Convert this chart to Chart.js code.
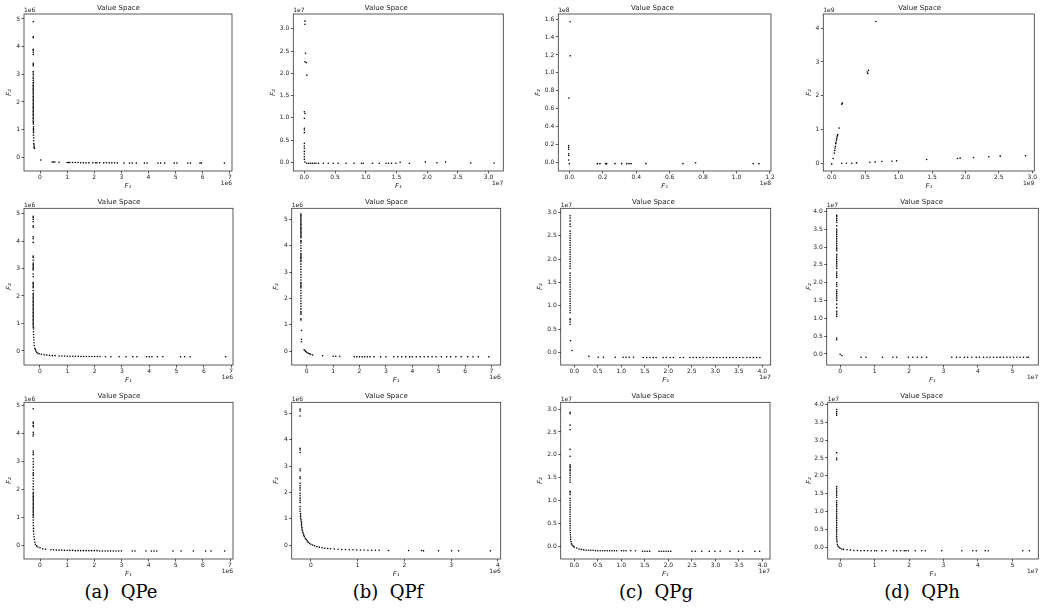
<!DOCTYPE html>
<html>
<head>
<meta charset="utf-8">
<script src="https://cdn.jsdelivr.net/npm/chart.js@4.4.1/dist/chart.umd.min.js"></script>
<style>
  body { margin: 0; background: #fff; width: 1043px; height: 610px; position: relative; overflow: hidden; }
  canvas { position: absolute; }
  .cap { position: absolute; top: 580px; transform: translateX(-50%); font-family: 'DejaVu Serif', serif; font-size: 18px; color: #000; white-space: pre; line-height: 24px; }
</style>
</head>
<body>
<div class="cap" style="left:121px">(a)  QPe</div>
<div class="cap" style="left:388px">(b)  QPf</div>
<div class="cap" style="left:656px">(c)  QPg</div>
<div class="cap" style="left:922px">(d)  QPh</div>
<script>
// tick values (in units of the axis exponent)
const t0to7 = [0, 1, 2, 3, 4, 5, 6, 7];
const t0to5 = [0, 1, 2, 3, 4, 5];
const t0to4 = [0, 1, 2, 3, 4];
const t0to3h = [0, 0.5, 1.0, 1.5, 2.0, 2.5, 3.0];
const t0to4h = [0, 0.5, 1.0, 1.5, 2.0, 2.5, 3.0, 3.5, 4.0];
const t0to12 = [0, 0.2, 0.4, 0.6, 0.8, 1.0, 1.2];
const t0to16 = [0, 0.2, 0.4, 0.6, 0.8, 1.0, 1.2, 1.4, 1.6];

// QPe, row 1 (x1e6, y1e6)
const qpe1 = [
  [-0.25,4.9],[-0.25,4.36],[-0.25,4.32],[-0.25,3.9],[-0.25,3.86],[-0.25,3.8],[-0.25,3.72],[-0.25,3.4],[-0.25,3.35],[-0.25,3.3],
  [-0.25,3.1],[-0.25,3.05],[-0.25,2.98],[-0.25,2.9],[-0.25,2.85],[-0.25,2.78],[-0.25,2.7],[-0.25,2.65],[-0.25,2.6],[-0.25,2.55],
  [-0.25,2.5],[-0.25,2.45],[-0.25,2.4],[-0.25,2.35],[-0.25,2.3],[-0.25,2.25],[-0.25,2.2],[-0.25,2.15],[-0.25,2.1],[-0.25,2.05],
  [-0.25,2.0],[-0.25,1.95],[-0.25,1.9],[-0.25,1.85],[-0.25,1.8],[-0.25,1.75],[-0.25,1.7],[-0.25,1.65],[-0.25,1.6],[-0.25,1.55],
  [-0.25,1.5],[-0.25,1.45],[-0.25,1.4],[-0.25,1.35],[-0.25,1.3],[-0.25,1.25],[-0.24,1.2],[-0.24,1.1],[-0.24,1.05],[-0.24,1.0],
  [-0.24,0.95],[-0.24,0.9],[-0.24,0.8],[-0.23,0.7],[-0.23,0.6],[-0.23,0.5],[-0.22,0.45],[-0.22,0.4],[-0.22,0.35],[-0.2,0.32],
  [0.03,-0.1],[0.45,-0.17],[0.5,-0.17],[0.55,-0.17],[0.7,-0.18],[1.0,-0.19],[1.05,-0.19],[1.1,-0.19],[1.2,-0.19],[1.3,-0.19],
  [1.4,-0.19],[1.5,-0.2],[1.6,-0.2],[1.7,-0.2],[1.8,-0.2],[1.95,-0.2],[2.05,-0.2],[2.1,-0.2],[2.2,-0.2],[2.35,-0.2],
  [2.45,-0.2],[2.55,-0.2],[2.65,-0.2],[2.75,-0.2],[2.85,-0.21],[3.1,-0.21],[3.3,-0.21],[3.4,-0.21],[3.55,-0.21],[3.85,-0.21],
  [3.95,-0.21],[4.35,-0.21],[4.45,-0.21],[4.6,-0.21],[4.95,-0.21],[5.05,-0.21],[5.45,-0.21],[5.55,-0.21],[5.9,-0.21],[5.95,-0.21],
  [6.8,-0.21]
];
// QPe, row 2 (x1e6, y1e6)
const qpe2 = [
  [-0.25,4.9],[-0.25,4.85],[-0.25,4.78],[-0.25,4.7],[-0.25,4.55],[-0.25,4.5],[-0.25,4.15],[-0.25,4.08],[-0.25,3.95],[-0.25,3.45],
  [-0.25,3.4],[-0.25,3.3],[-0.25,3.2],[-0.25,3.15],[-0.25,3.1],[-0.25,3.05],[-0.25,3.0],[-0.25,2.95],[-0.25,2.8],[-0.25,2.7],
  [-0.25,2.5],[-0.25,2.45],[-0.25,2.4],[-0.25,2.35],[-0.25,2.3],[-0.25,2.2],[-0.25,2.1],[-0.25,2.05],[-0.25,2.0],[-0.25,1.95],
  [-0.25,1.9],[-0.25,1.85],[-0.25,1.8],[-0.25,1.75],[-0.25,1.7],[-0.25,1.65],[-0.25,1.6],[-0.25,1.55],[-0.25,1.5],[-0.25,1.45],
  [-0.25,1.4],[-0.25,1.35],[-0.25,1.3],[-0.25,1.25],[-0.25,1.2],[-0.25,1.15],[-0.25,1.1],[-0.25,1.05],[-0.25,1.0],[-0.25,0.95],
  [-0.25,0.9],[-0.24,0.85],[-0.24,0.8],[-0.24,0.7],[-0.235,0.6],[-0.23,0.5],[-0.225,0.4],[-0.22,0.3],[-0.21,0.2],[-0.19,0.1],
  [-0.17,0.05],[-0.15,0.0],[-0.12,-0.05],[-0.08,-0.08],[-0.03,-0.1],[0.05,-0.12],[0.15,-0.14],[0.25,-0.15],[0.35,-0.16],[0.45,-0.17],
  [0.55,-0.17],[0.7,-0.18],[0.8,-0.18],[0.9,-0.18],[1.0,-0.19],[1.1,-0.19],[1.2,-0.19],[1.3,-0.19],[1.4,-0.19],[1.5,-0.2],
  [1.6,-0.2],[1.7,-0.2],[1.8,-0.2],[1.9,-0.2],[2.0,-0.2],[2.1,-0.2],[2.2,-0.2],[2.4,-0.21],[2.6,-0.21],[2.9,-0.21],
  [3.15,-0.21],[3.4,-0.21],[3.55,-0.21],[3.9,-0.21],[4.0,-0.21],[4.1,-0.21],[4.3,-0.21],[4.5,-0.21],[5.15,-0.21],[5.3,-0.21],
  [5.5,-0.21],[6.8,-0.21]
];
// QPe, row 3 (x1e6, y1e6)
const qpe3 = [
  [-0.25,4.9],[-0.25,4.42],[-0.25,4.38],[-0.25,4.3],[-0.25,4.25],[-0.25,4.05],[-0.25,3.98],[-0.25,3.92],[-0.25,3.38],[-0.25,3.32],
  [-0.25,3.25],[-0.25,3.1],[-0.25,3.0],[-0.25,2.9],[-0.25,2.8],[-0.25,2.7],[-0.25,2.6],[-0.25,2.55],[-0.25,2.5],[-0.25,2.4],
  [-0.25,2.3],[-0.25,2.2],[-0.25,2.1],[-0.25,2.0],[-0.25,1.9],[-0.25,1.85],[-0.25,1.8],[-0.25,1.75],[-0.25,1.7],[-0.25,1.65],
  [-0.25,1.6],[-0.25,1.55],[-0.25,1.5],[-0.25,1.45],[-0.25,1.4],[-0.25,1.35],[-0.25,1.3],[-0.25,1.25],[-0.25,1.2],[-0.25,1.15],
  [-0.25,1.1],[-0.25,1.05],[-0.25,1.0],[-0.25,0.9],[-0.25,0.8],[-0.25,0.7],[-0.24,0.6],[-0.24,0.5],[-0.23,0.4],[-0.22,0.3],
  [-0.21,0.2],[-0.19,0.1],[-0.17,0.03],[-0.13,-0.03],[-0.08,-0.07],[0.0,-0.1],[0.1,-0.13],[0.2,-0.15],[0.4,-0.17],[0.5,-0.17],
  [0.6,-0.18],[0.7,-0.18],[0.8,-0.18],[0.9,-0.19],[1.0,-0.19],[1.1,-0.19],[1.2,-0.19],[1.3,-0.2],[1.4,-0.2],[1.5,-0.2],
  [1.6,-0.2],[1.7,-0.2],[1.8,-0.2],[1.9,-0.2],[2.0,-0.2],[2.1,-0.2],[2.2,-0.21],[2.3,-0.21],[2.4,-0.21],[2.5,-0.21],
  [2.6,-0.21],[2.7,-0.21],[2.8,-0.21],[2.9,-0.21],[3.0,-0.21],[3.4,-0.21],[3.5,-0.21],[3.9,-0.21],[4.1,-0.21],[4.2,-0.21],
  [4.3,-0.21],[4.9,-0.21],[5.2,-0.21],[5.65,-0.21],[6.1,-0.21],[6.3,-0.21],[6.8,-0.21]
];
// QPf, row 1 (x1e7, y1e7)
const qpf1 = [
  [0.01,3.17],[0.01,3.1],[0.02,2.45],[0.01,2.26],[0.03,2.24],[0.04,1.96],[0.0,1.14],[0.01,1.1],[0.0,0.99],[0.0,0.77],
  [0.0,0.73],[0.0,0.67],[0.0,0.43],[0.0,0.37],[0.0,0.32],[0.0,0.25],[0.0,0.19],[0.0,0.13],[0.0,0.07],[0.01,0.01],
  [0.04,-0.015],[0.07,-0.015],[0.1,-0.015],[0.13,-0.015],[0.16,-0.015],[0.19,-0.015],[0.23,-0.015],[0.31,-0.015],[0.39,-0.015],[0.47,-0.015],
  [0.55,-0.015],[0.68,-0.015],[0.81,-0.015],[0.93,-0.015],[0.96,-0.015],[1.11,-0.015],[1.22,-0.015],[1.33,-0.015],[1.37,-0.015],[1.42,-0.015],
  [1.49,-0.015],[1.56,0.005],[1.71,-0.015],[1.97,0.01],[2.16,-0.005],[2.3,0.01],[2.71,-0.01],[3.09,-0.01]
];
// QPf, row 2 (x1e6, y1e6)
const qpf2 = [
  [-0.22,5.2],[-0.22,5.15],[-0.22,5.1],[-0.22,5.05],[-0.22,5.0],[-0.22,4.95],[-0.22,4.9],[-0.22,4.85],[-0.22,4.8],[-0.22,4.75],
  [-0.22,4.7],[-0.22,4.65],[-0.22,4.6],[-0.22,4.55],[-0.22,4.5],[-0.22,4.45],[-0.22,4.4],[-0.22,4.35],[-0.22,4.3],[-0.22,4.2],
  [-0.22,4.15],[-0.22,4.1],[-0.22,4.0],[-0.22,3.9],[-0.22,3.8],[-0.22,3.7],[-0.22,3.65],[-0.22,3.6],[-0.22,3.55],[-0.22,3.5],
  [-0.22,3.45],[-0.22,3.4],[-0.22,3.3],[-0.22,3.2],[-0.22,3.1],[-0.22,3.0],[-0.22,2.9],[-0.22,2.8],[-0.22,2.7],[-0.22,2.6],
  [-0.22,2.55],[-0.22,2.5],[-0.22,2.45],[-0.22,2.4],[-0.22,2.3],[-0.22,2.2],[-0.22,2.1],[-0.22,2.0],[-0.22,1.9],[-0.22,1.8],
  [-0.22,1.7],[-0.22,1.6],[-0.22,1.5],[-0.22,1.45],[-0.22,1.4],[-0.22,1.22],[-0.22,1.18],[-0.2,0.78],[-0.2,0.45],[-0.2,0.35],
  [-0.1,0.05],[-0.07,0.02],[-0.04,-0.02],[0.0,-0.05],[0.05,-0.08],[0.1,-0.1],[0.15,-0.12],[0.22,-0.15],[0.6,-0.18],[1.0,-0.2],
  [1.1,-0.2],[1.25,-0.2],[1.8,-0.22],[1.9,-0.22],[2.0,-0.22],[2.1,-0.22],[2.2,-0.22],[2.3,-0.22],[2.4,-0.22],[2.55,-0.22],
  [2.8,-0.22],[3.0,-0.22],[3.3,-0.22],[3.45,-0.22],[3.6,-0.22],[3.75,-0.22],[3.9,-0.22],[4.0,-0.22],[4.15,-0.22],[4.3,-0.22],
  [4.45,-0.22],[4.6,-0.22],[4.75,-0.22],[4.9,-0.22],[5.1,-0.22],[5.3,-0.22],[5.45,-0.22],[5.65,-0.22],[5.85,-0.22],[6.1,-0.22],
  [6.3,-0.22],[6.5,-0.22],[6.9,-0.22]
];
// QPf, row 3 (x1e6, y1e6)
const qpf3 = [
  [-0.23,5.16],[-0.23,5.09],[-0.23,4.9],[-0.23,3.67],[-0.23,3.61],[-0.23,3.51],[-0.23,2.89],[-0.23,2.82],[-0.23,2.59],[-0.23,2.53],
  [-0.23,2.34],[-0.23,2.25],[-0.23,2.17],[-0.23,2.09],[-0.23,1.96],[-0.23,1.87],[-0.23,1.78],[-0.23,1.7],[-0.23,1.62],[-0.23,1.46],
  [-0.23,1.37],[-0.23,1.28],[-0.22,1.2],[-0.22,1.14],[-0.22,1.08],[-0.22,1.02],[-0.21,0.96],[-0.21,0.9],[-0.2,0.84],[-0.2,0.78],
  [-0.2,0.72],[-0.19,0.66],[-0.19,0.6],[-0.18,0.54],[-0.17,0.48],[-0.16,0.42],[-0.15,0.37],[-0.14,0.32],[-0.12,0.26],[-0.1,0.21],
  [-0.08,0.16],[-0.06,0.11],[-0.03,0.07],[0.0,0.03],[0.04,0.0],[0.08,-0.03],[0.13,-0.06],[0.18,-0.08],[0.24,-0.1],[0.3,-0.12],
  [0.36,-0.13],[0.42,-0.14],[0.5,-0.15],[0.58,-0.16],[0.66,-0.17],[0.74,-0.17],[0.82,-0.18],[0.9,-0.18],[0.98,-0.19],[1.06,-0.19],
  [1.14,-0.19],[1.22,-0.2],[1.3,-0.2],[1.38,-0.2],[1.46,-0.2],[1.66,-0.21],[2.09,-0.21],[2.37,-0.21],[2.41,-0.22],[2.73,-0.22],
  [3.01,-0.22],[3.16,-0.22],[3.84,-0.22]
];
// QPg, row 1 (x1e8, y1e8)
const qpg1 = [
  [0.005,1.57],[0.005,1.19],[-0.003,0.72],[-0.004,0.19],[-0.004,0.17],[-0.004,0.15],[-0.004,0.1],[-0.004,0.08],[-0.004,0.03],[0.0,-0.01],
  [0.167,-0.01],[0.183,-0.01],[0.217,-0.01],[0.223,-0.01],[0.273,-0.01],[0.313,-0.01],[0.343,-0.01],[0.357,-0.01],[0.369,-0.01],[0.458,-0.01],
  [0.68,-0.01],[0.755,0.0],[1.1,-0.01],[1.134,-0.01]
];
// QPg, row 2 (x1e7, y1e7)
const qpg2 = [
  [-0.09,2.93],[-0.09,2.88],[-0.09,2.82],[-0.09,2.75],[-0.09,2.7],[-0.09,2.6],[-0.09,2.55],[-0.09,2.5],[-0.09,2.45],[-0.09,2.4],
  [-0.09,2.35],[-0.09,2.3],[-0.09,2.25],[-0.09,2.2],[-0.09,2.15],[-0.09,2.1],[-0.09,2.05],[-0.09,2.0],[-0.09,1.95],[-0.09,1.9],
  [-0.09,1.85],[-0.09,1.8],[-0.09,1.7],[-0.09,1.65],[-0.09,1.6],[-0.09,1.55],[-0.09,1.5],[-0.09,1.45],[-0.09,1.4],[-0.09,1.35],
  [-0.09,1.3],[-0.09,1.25],[-0.09,1.2],[-0.09,1.15],[-0.09,1.1],[-0.09,1.05],[-0.09,1.0],[-0.09,0.95],[-0.09,0.9],[-0.09,0.85],
  [-0.09,0.72],[-0.09,0.7],[-0.09,0.65],[-0.09,0.6],[-0.08,0.25],[-0.05,0.04],[0.31,-0.085],[0.51,-0.105],[0.62,-0.105],[0.87,-0.105],
  [1.04,-0.105],[1.1,-0.105],[1.17,-0.105],[1.26,-0.105],[1.47,-0.11],[1.54,-0.11],[1.61,-0.11],[1.68,-0.11],[1.74,-0.11],[1.89,-0.11],
  [1.96,-0.11],[2.04,-0.11],[2.11,-0.11],[2.25,-0.11],[2.32,-0.11],[2.46,-0.11],[2.53,-0.11],[2.6,-0.11],[2.67,-0.11],[2.74,-0.11],
  [2.82,-0.11],[2.89,-0.11],[2.96,-0.11],[3.03,-0.11],[3.1,-0.11],[3.17,-0.11],[3.24,-0.11],[3.31,-0.11],[3.38,-0.11],[3.45,-0.11],
  [3.52,-0.11],[3.59,-0.11],[3.67,-0.11],[3.74,-0.11],[3.81,-0.11],[3.88,-0.11],[3.95,-0.11]
];
// QPg, row 3 (x1e7, y1e7)
const qpg3 = [
  [-0.09,2.93],[-0.09,2.9],[-0.09,2.65],[-0.09,2.55],[-0.09,2.12],[-0.09,1.97],[-0.09,1.78],[-0.09,1.75],[-0.09,1.72],[-0.09,1.68],
  [-0.09,1.65],[-0.09,1.6],[-0.09,1.55],[-0.09,1.5],[-0.09,1.45],[-0.09,1.4],[-0.09,1.2],[-0.09,1.17],[-0.09,1.13],[-0.09,1.05],
  [-0.09,1.0],[-0.09,0.95],[-0.09,0.9],[-0.09,0.85],[-0.09,0.8],[-0.09,0.75],[-0.09,0.7],[-0.09,0.65],[-0.09,0.6],[-0.09,0.55],
  [-0.09,0.5],[-0.09,0.45],[-0.09,0.4],[-0.09,0.35],[-0.085,0.3],[-0.085,0.25],[-0.08,0.2],[-0.08,0.15],[-0.07,0.1],[-0.06,0.05],
  [-0.04,0.02],[-0.02,0.0],[0.0,-0.02],[0.05,-0.04],[0.1,-0.06],[0.15,-0.07],[0.2,-0.08],[0.25,-0.09],[0.3,-0.09],[0.35,-0.09],
  [0.4,-0.09],[0.45,-0.1],[0.5,-0.1],[0.55,-0.1],[0.6,-0.1],[0.65,-0.1],[0.7,-0.1],[0.75,-0.1],[0.8,-0.1],[0.85,-0.1],
  [0.9,-0.1],[1.0,-0.1],[1.05,-0.1],[1.1,-0.1],[1.2,-0.1],[1.3,-0.1],[1.45,-0.11],[1.5,-0.11],[1.55,-0.11],[1.6,-0.11],
  [1.8,-0.11],[1.85,-0.11],[1.9,-0.11],[1.95,-0.11],[2.0,-0.11],[2.05,-0.11],[2.5,-0.11],[2.57,-0.11],[2.71,-0.11],[2.87,-0.11],
  [2.99,-0.11],[3.1,-0.11],[3.31,-0.11],[3.49,-0.11],[3.58,-0.11],[3.84,-0.11],[3.94,-0.11]
];
// QPh, row 1 (x1e9, y1e9)
const qph1 = [
  [0.66,4.2],[0.53,2.7],[0.55,2.75],[0.54,2.66],[0.15,1.75],[0.16,1.78],[0.11,1.04],[0.09,0.85],[0.085,0.82],[0.08,0.78],
  [0.075,0.72],[0.07,0.68],[0.065,0.62],[0.06,0.58],[0.055,0.5],[0.05,0.45],[0.045,0.38],[0.04,0.3],[0.02,0.14],[0.0,-0.02],
  [0.15,0.0],[0.22,0.0],[0.3,0.0],[0.37,0.01],[0.57,0.03],[0.65,0.04],[0.75,0.05],[0.9,0.06],[0.97,0.07],[1.42,0.11],
  [1.88,0.14],[1.92,0.15],[2.12,0.17],[2.35,0.19],[2.52,0.21],[2.9,0.22]
];
// QPh, row 2 (x1e7, y1e7)
const qph2 = [
  [-0.1,3.89],[-0.1,3.85],[-0.1,3.8],[-0.1,3.75],[-0.1,3.7],[-0.1,3.6],[-0.1,3.5],[-0.1,3.45],[-0.1,3.4],[-0.1,3.35],
  [-0.1,3.3],[-0.1,3.25],[-0.1,3.2],[-0.1,3.15],[-0.1,3.1],[-0.1,3.05],[-0.1,3.0],[-0.1,2.95],[-0.1,2.9],[-0.1,2.8],
  [-0.1,2.75],[-0.1,2.7],[-0.1,2.65],[-0.1,2.6],[-0.1,2.55],[-0.1,2.5],[-0.1,2.45],[-0.1,2.4],[-0.1,2.3],[-0.1,2.25],
  [-0.1,2.2],[-0.1,2.15],[-0.1,2.0],[-0.1,1.95],[-0.1,1.9],[-0.1,1.8],[-0.1,1.75],[-0.1,1.7],[-0.1,1.65],[-0.1,1.6],
  [-0.1,1.55],[-0.1,1.5],[-0.1,1.4],[-0.1,1.3],[-0.1,1.2],[-0.1,1.15],[-0.1,1.1],[-0.1,1.05],[-0.1,0.45],[-0.1,0.4],
  [0.0,-0.01],[0.05,-0.05],[0.61,-0.094],[0.75,-0.094],[1.23,-0.094],[1.53,-0.094],[1.64,-0.094],[1.98,-0.094],[2.11,-0.094],[2.24,-0.094],
  [2.37,-0.094],[2.51,-0.094],[3.24,-0.094],[3.38,-0.094],[3.48,-0.094],[3.61,-0.094],[3.7,-0.094],[3.82,-0.094],[3.95,-0.094],[4.04,-0.094],
  [4.16,-0.094],[4.26,-0.094],[4.35,-0.094],[4.45,-0.094],[4.55,-0.094],[4.64,-0.094],[4.74,-0.094],[4.84,-0.094],[4.93,-0.094],[5.03,-0.094],
  [5.13,-0.094],[5.22,-0.094],[5.32,-0.094],[5.42,-0.094],[5.46,-0.094]
];
// QPh, row 3 (x1e7, y1e7)
const qph3 = [
  [-0.1,3.86],[-0.1,3.8],[-0.1,3.75],[-0.1,3.7],[-0.1,2.65],[-0.1,2.5],[-0.1,2.45],[-0.1,1.7],[-0.1,1.65],[-0.1,1.6],
  [-0.1,1.55],[-0.1,1.5],[-0.1,1.45],[-0.1,1.4],[-0.1,1.3],[-0.1,1.25],[-0.1,1.2],[-0.1,1.15],[-0.1,1.1],[-0.1,1.05],
  [-0.1,1.0],[-0.1,0.95],[-0.1,0.9],[-0.1,0.85],[-0.1,0.8],[-0.1,0.75],[-0.1,0.7],[-0.1,0.65],[-0.1,0.6],[-0.1,0.55],
  [-0.1,0.5],[-0.1,0.45],[-0.1,0.4],[-0.1,0.35],[-0.1,0.3],[-0.1,0.25],[-0.095,0.2],[-0.09,0.15],[-0.08,0.08],[-0.06,0.03],
  [-0.03,0.0],[0.0,-0.03],[0.05,-0.05],[0.1,-0.06],[0.2,-0.07],[0.3,-0.08],[0.4,-0.09],[0.5,-0.09],[0.6,-0.1],[0.7,-0.1],
  [0.8,-0.1],[0.9,-0.1],[1.0,-0.1],[1.06,-0.1],[1.21,-0.1],[1.33,-0.1],[1.55,-0.1],[1.64,-0.1],[1.76,-0.1],[1.86,-0.1],
  [1.91,-0.1],[1.98,-0.1],[2.18,-0.1],[2.37,-0.1],[2.47,-0.1],[2.95,-0.1],[3.53,-0.1],[3.85,-0.1],[3.95,-0.1],[4.21,-0.1],
  [4.3,-0.1],[5.3,-0.1],[5.49,-0.1]
];

// one entry per subplot: data, axis exponents, limits and where its frame sits on the page
const panels = [
  { pts: qpe1, ex: '1e6', ey: '1e6', box: [24, 14, 232, 171], ytx: 10, xr: [-0.59, 7.08], yr: [-0.495, 5.18], xt: t0to7, yt: t0to5, xd: 0, yd: 0 },
  { pts: qpf1, ex: '1e7', ey: '1e7', box: [293.3, 14, 503.3, 171], ytx: 273.3, xr: [-0.18, 3.24], yr: [-0.19, 3.33], xt: t0to3h, yt: t0to3h, xd: 1, yd: 1 },
  { pts: qpg1, ex: '1e8', ey: '1e8', box: [558.3, 14, 771, 171], ytx: 539, xr: [-0.066, 1.206], yr: [-0.092, 1.656], xt: t0to12, yt: t0to16, xd: 1, yd: 1 },
  { pts: qph1, ex: '1e9', ey: '1e9', box: [823.3, 14, 1034.3, 171], ytx: 809.3, xr: [-0.126, 3.03], yr: [-0.23, 4.42], xt: t0to3h, yt: t0to4, xd: 1, yd: 0 },
  { pts: qpe2, ex: '1e6', ey: '1e6', box: [24, 208.3, 233, 365], ytx: 10, xr: [-0.586, 7.07], yr: [-0.51, 5.19], xt: t0to7, yt: t0to5, xd: 0, yd: 0 },
  { pts: qpf2, ex: '1e6', ey: '1e6', box: [291.7, 208.3, 500.7, 365], ytx: 276.7, xr: [-0.57, 7.35], yr: [-0.53, 5.42], xt: t0to7, yt: t0to5, xd: 0, yd: 0 },
  { pts: qpg2, ex: '1e7', ey: '1e7', box: [560.7, 208.3, 770.7, 365], ytx: 541, xr: [-0.29, 4.18], yr: [-0.27, 3.09], xt: t0to4h, yt: t0to3h, xd: 1, yd: 1 },
  { pts: qph2, ex: '1e7', ey: '1e7', box: [826.7, 208.3, 1038.3, 365], ytx: 809.3, xr: [-0.39, 5.75], yr: [-0.31, 4.09], xt: t0to5, yt: t0to4h, xd: 0, yd: 1 },
  { pts: qpe3, ex: '1e6', ey: '1e6', box: [24, 402.3, 233, 559], ytx: 10, xr: [-0.59, 7.11], yr: [-0.5, 5.13], xt: t0to7, yt: t0to5, xd: 0, yd: 0 },
  { pts: qpf3, ex: '1e6', ey: '1e6', box: [291.7, 402.3, 500.7, 559], ytx: 276.7, xr: [-0.41, 4.06], yr: [-0.53, 5.42], xt: t0to4, yt: t0to5, xd: 0, yd: 0 },
  { pts: qpg3, ex: '1e7', ey: '1e7', box: [560.7, 402.3, 770, 559], ytx: 541, xr: [-0.29, 4.16], yr: [-0.28, 3.15], xt: t0to4h, yt: t0to3h, xd: 1, yd: 1 },
  { pts: qph3, ex: '1e7', ey: '1e7', box: [827.7, 402.3, 1038.3, 559], ytx: 809.3, xr: [-0.36, 5.75], yr: [-0.33, 4.06], xt: t0to5, yt: t0to4h, xd: 0, yd: 1 },
];

const ink = '#222';
const tickFont = { family: 'DejaVu Sans', size: 6 };

// spines on all four sides plus the matplotlib-style offset text (1e6 etc)
const frame = {
  id: 'frame',
  afterDraw(chart, args, o) {
    const { ctx, chartArea: a } = chart;
    ctx.save();
    ctx.strokeStyle = '#333';
    ctx.lineWidth = 0.8;
    ctx.strokeRect(a.left, a.top, a.right - a.left, a.bottom - a.top);
    ctx.fillStyle = ink;
    ctx.font = '6px "DejaVu Sans"';
    ctx.textBaseline = 'middle';
    ctx.textAlign = 'left';
    ctx.fillText(o.ey, a.left, a.top - 3.3);
    ctx.textAlign = 'right';
    ctx.fillText(o.ex, a.right, a.bottom + 12.5);
    ctx.restore();
  }
};

panels.forEach((p) => {
  const [bl, bt, br, bb] = p.box;
  const cl = Math.floor(p.ytx - 4.2);
  const ct = Math.floor(bt - 14);
  const cr = Math.ceil(br + 8);
  const cb = Math.ceil(bb + 19);
  const L = bl - cl, T = bt - ct, R = cr - br, B = bb - cb < 0 ? cb - bb : 0;

  const canvas = document.createElement('canvas');
  canvas.width = cr - cl;
  canvas.height = cb - ct;
  canvas.style.left = cl + 'px';
  canvas.style.top = ct + 'px';
  document.body.appendChild(canvas);

  const tickGrid = { display: true, drawOnChartArea: false, drawTicks: true, tickLength: 2.5, color: '#333', lineWidth: 0.8 };

  new Chart(canvas, {
    type: 'scatter',
    data: {
      datasets: [{
        data: p.pts.map(([x, y]) => ({ x, y })),
        backgroundColor: '#000',
        borderWidth: 0,
        pointRadius: 0.8,
        pointHoverRadius: 0.8,
      }],
    },
    options: {
      responsive: false,
      animation: false,
      events: [],
      layout: { padding: { left: 0, top: 0, right: R, bottom: 0 } },
      plugins: {
        legend: { display: false },
        tooltip: { enabled: false },
        title: {
          display: true,
          text: 'Value Space',
          color: ink,
          font: { family: 'DejaVu Sans', size: 7, weight: 'normal', lineHeight: 1.2 },
          padding: { top: T - 8.4 - 1.8, bottom: 1.8 },
        },
        frame: { ex: p.ex, ey: p.ey },
      },
      scales: {
        x: {
          type: 'linear',
          min: p.xr[0],
          max: p.xr[1],
          afterBuildTicks: (s) => { s.ticks = p.xt.map((v) => ({ value: v })); },
          afterFit: (s) => { s.height = B; },
          grid: tickGrid,
          border: { display: false },
          ticks: { font: tickFont, color: ink, padding: 0.5, maxRotation: 0, callback: (v) => Number(v).toFixed(p.xd) },
          title: { display: true, text: 'F₁', color: ink, padding: 0, font: { family: 'DejaVu Sans', size: 7, style: 'italic', lineHeight: 1.2 } },
        },
        y: {
          type: 'linear',
          min: p.yr[0],
          max: p.yr[1],
          afterBuildTicks: (s) => { s.ticks = p.yt.map((v) => ({ value: v })); },
          afterFit: (s) => { s.width = L; },
          grid: tickGrid,
          border: { display: false },
          ticks: { font: tickFont, color: ink, padding: 1.5, callback: (v) => Number(v).toFixed(p.yd) },
          title: { display: true, text: 'F₂', color: ink, padding: 0, font: { family: 'DejaVu Sans', size: 7, style: 'italic', lineHeight: 1.2 } },
        },
      },
    },
    plugins: [frame],
  });
});
</script>
</body>
</html>
